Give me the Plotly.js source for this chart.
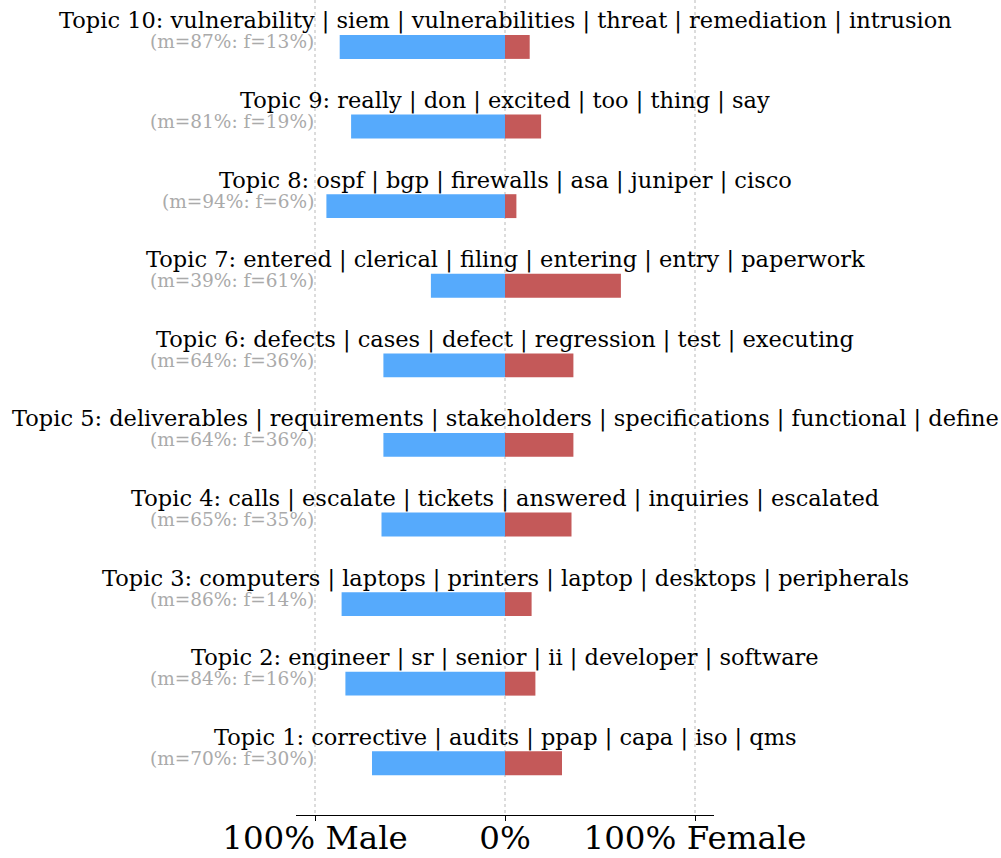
<!DOCTYPE html>
<html>
<head>
<meta charset="utf-8">
<script src="https://cdn.plot.ly/plotly-3.0.1.min.js"></script>
<style>html,body{margin:0;padding:0;background:#fff;}#chart{width:1001px;height:858px;}</style>
</head>
<body>
<div id="chart"></div>
<script>
const topics = [
  "Topic 1: corrective | audits | ppap | capa | iso | qms",
  "Topic 2: engineer | sr | senior | ii | developer | software",
  "Topic 3: computers | laptops | printers | laptop | desktops | peripherals",
  "Topic 4: calls | escalate | tickets | answered | inquiries | escalated",
  "Topic 5: deliverables | requirements | stakeholders | specifications | functional | define",
  "Topic 6: defects | cases | defect | regression | test | executing",
  "Topic 7: entered | clerical | filing | entering | entry | paperwork",
  "Topic 8: ospf | bgp | firewalls | asa | juniper | cisco",
  "Topic 9: really | don | excited | too | thing | say",
  "Topic 10: vulnerability | siem | vulnerabilities | threat | remediation | intrusion"
];
const malePct = [70, 84, 86, 65, 64, 64, 39, 94, 81, 87];
const femalePct = [30, 16, 14, 35, 36, 36, 61, 6, 19, 13];
const tickVals = [-100, 0, 100];
const tickText = ["100% Male", "0%", "100% Female"];

const yIdx = topics.map((_, i) => i);
const font = "DejaVu Serif";

const traces = [
  {type: "bar", orientation: "h", y: yIdx, x: malePct.map(v => -v), width: 0.3,
   marker: {color: "#56aafc", line: {width: 0}}, hoverinfo: "skip"},
  {type: "bar", orientation: "h", y: yIdx, x: femalePct, width: 0.3,
   marker: {color: "#c45959", line: {width: 0}}, hoverinfo: "skip"}
];

const annotations = [];
topics.forEach((t, i) => {
  annotations.push({x: 0, y: i, xref: "x", yref: "y", text: t, showarrow: false,
    xanchor: "center", yanchor: "middle", yshift: 26, font: {family: font, size: 22.5, color: "#000"}});
  annotations.push({x: -100, y: i, xref: "x", yref: "y", text: "(m=" + malePct[i] + "%: f=" + femalePct[i] + "%)",
    showarrow: false, xanchor: "right", yanchor: "middle", yshift: 5, xshift: 1,
    font: {family: font, size: 18.5, color: "#aaaaaa"}});
});

const layout = {
  width: 1001, height: 858,
  margin: {l: 296, r: 287, t: 0, b: 43},
  paper_bgcolor: "#fff", plot_bgcolor: "#fff",
  barmode: "relative",
  showlegend: false,
  xaxis: {range: [-110, 110], tickvals: tickVals, ticktext: tickText, showgrid: true,
    gridcolor: "#dcdcdc", gridwidth: 2, griddash: "dot", zeroline: false,
    showline: true, linecolor: "#000", linewidth: 1, ticks: "outside", ticklen: 5, tickcolor: "#000",
    ticklabelstandoff: -11,
    tickfont: {family: font, size: 32.5, color: "#000"}, fixedrange: true},
  yaxis: {range: [-0.65, 9.59], showticklabels: false, showgrid: false, zeroline: false,
    showline: false, ticks: "", fixedrange: true},
  annotations: annotations
};

Plotly.newPlot("chart", traces, layout, {staticPlot: true});
</script>
</body>
</html>
